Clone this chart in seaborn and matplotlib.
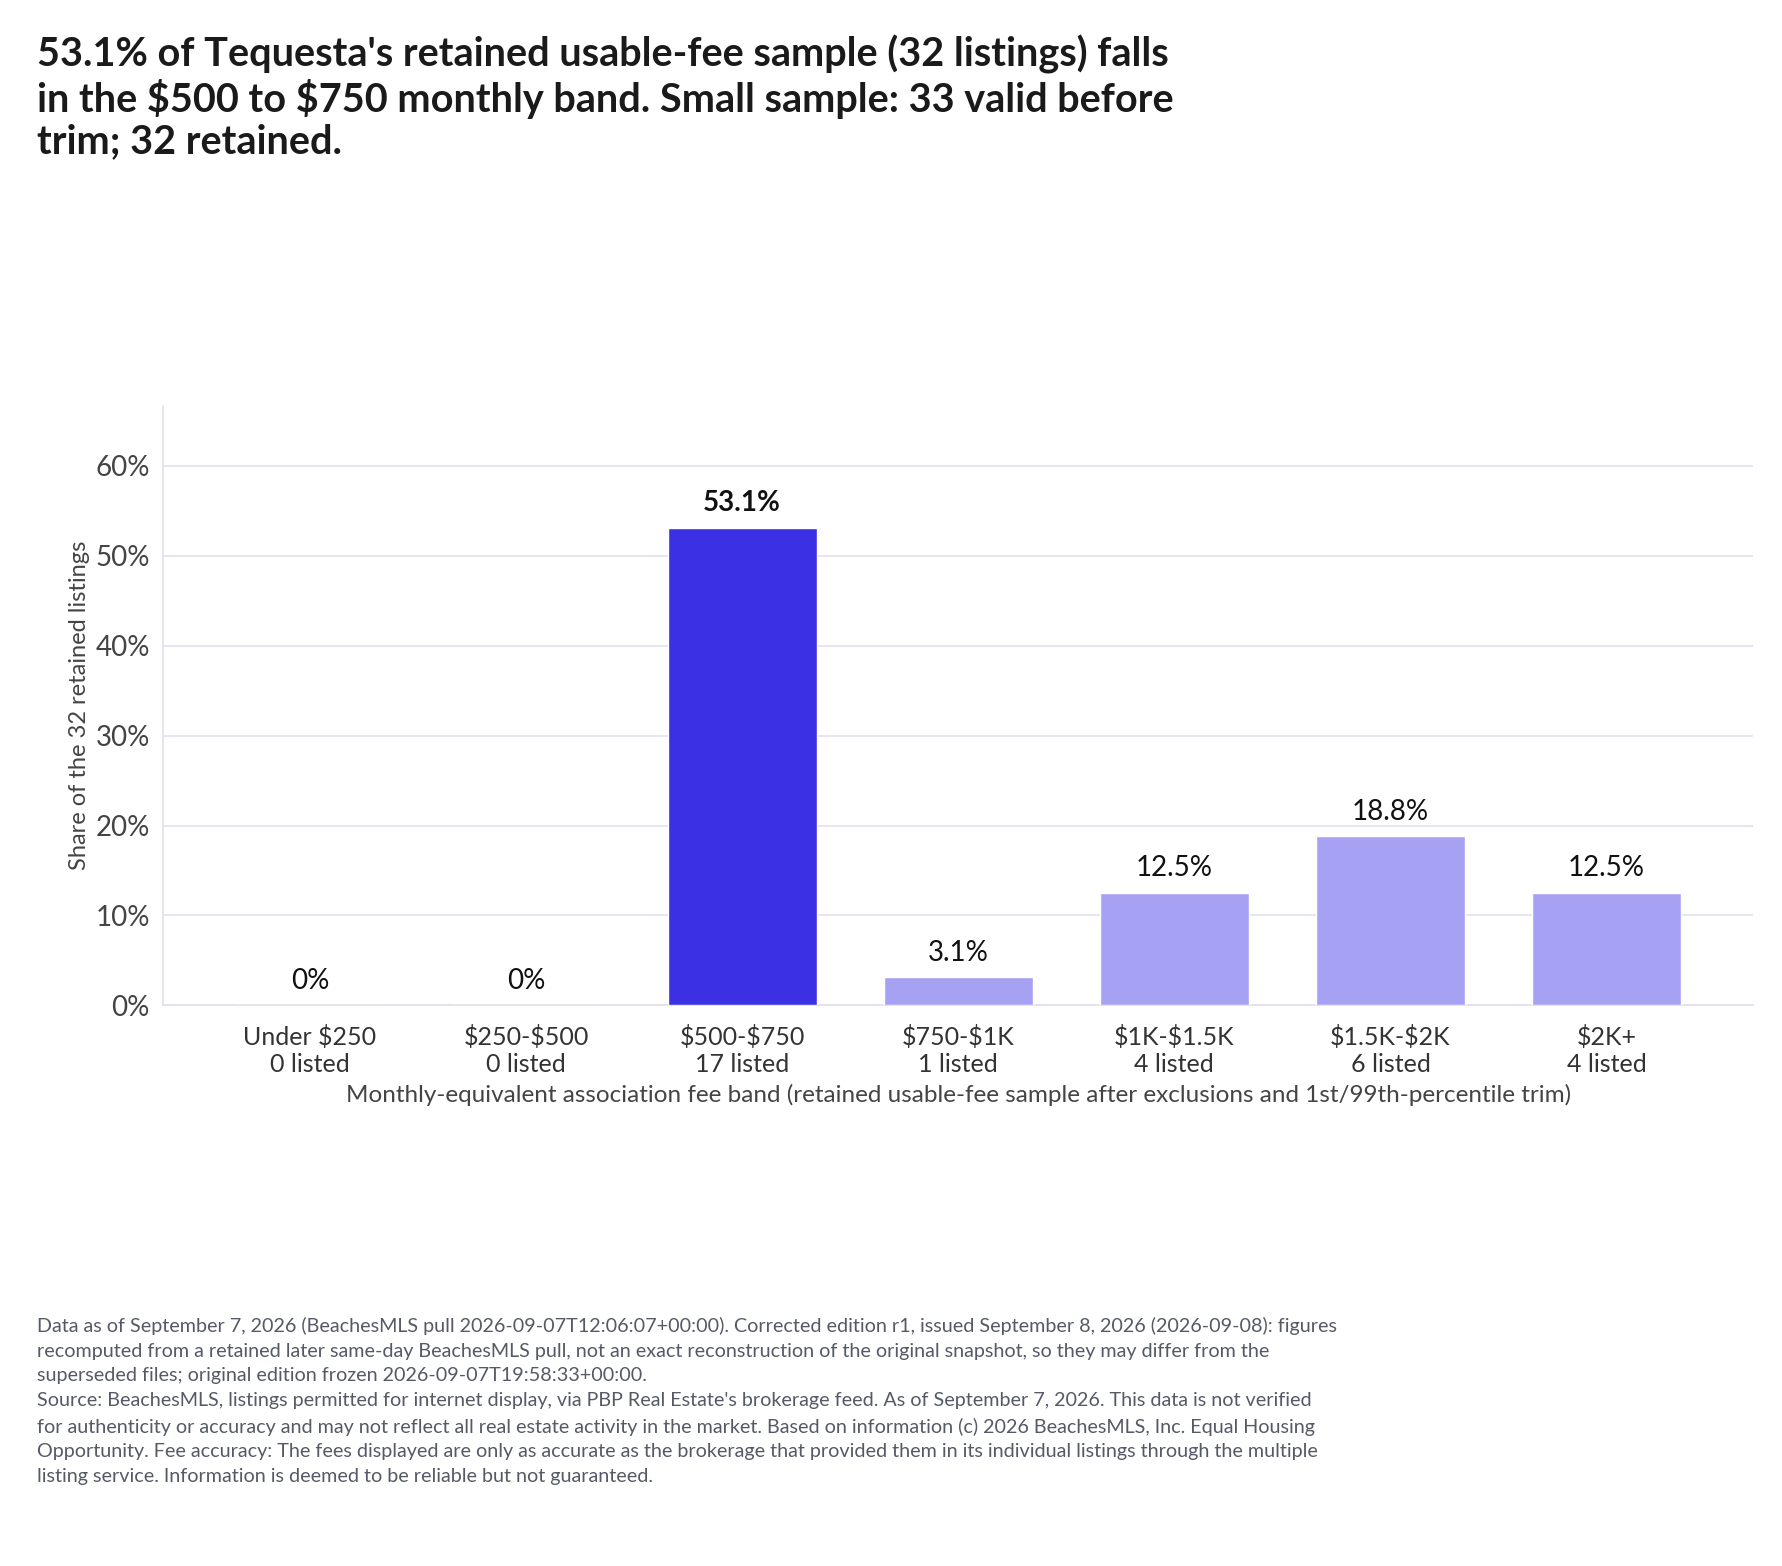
import matplotlib
matplotlib.use("Agg")
import matplotlib.pyplot as plt
import seaborn as sns
import pandas as pd

bands = ["Under $250", "$250-$500", "$500-$750", "$750-$1K", "$1K-$1.5K", "$1.5K-$2K", "$2K+"]
counts = [0, 0, 17, 1, 4, 6, 4]
shares = [0.0, 0.0, 53.1, 3.1, 12.5, 18.8, 12.5]
value_labels = ["0%", "0%", "53.1%", "3.1%", "12.5%", "18.8%", "12.5%"]
highlight = "$500-$750"

sns.set_theme(style="white")
plt.rcParams["font.family"] = ["Lato", "DejaVu Sans"]
plt.rcParams["text.parse_math"] = False

df = pd.DataFrame({"band": bands, "share": shares})
df["label"] = [f"{b}\n{c} listed" for b, c in zip(bands, counts)]
palette = {l: ("#3b30e3" if b == highlight else "#a7a1f3") for l, b in zip(df["label"], bands)}

fig = plt.figure(figsize=(17.82, 15.66), dpi=100)
ax = fig.add_axes([0.0915, 0.358, 0.8925, 0.383])
sns.barplot(data=df, x="label", y="share", hue="label", palette=palette, legend=False,
            width=0.69, saturation=1, ax=ax, zorder=3)

ax.set_xlim(-0.68, 6.68)
ax.set_ylim(0, 66.7)
ax.set_yticks(range(0, 61, 10))
ax.set_yticklabels([f"{v}%" for v in range(0, 61, 10)], fontsize=20, color="#444")
ax.tick_params(axis="x", labelsize=18, colors="#444", length=6, width=1, pad=8)
ax.tick_params(axis="y", length=6, width=1, colors="#444")
for t in ax.get_xticklabels():
    t.set_color("#333")
ax.grid(axis="y", color="#e2e0f0", linewidth=1.2, zorder=0)
for s in ["top", "right"]:
    ax.spines[s].set_visible(False)
ax.spines["left"].set_color("#e2e0f0")
ax.spines["bottom"].set_color("#e2e0f0")

for i, (v, lab) in enumerate(zip(shares, value_labels)):
    ax.text(i, v + 1.3, lab, ha="center", va="bottom", fontsize=20,
            fontweight="bold" if bands[i] == highlight else "normal", color="#111")

ax.set_ylabel("Share of the 32 retained listings", fontsize=17, color="#444")
ax.set_xlabel("Monthly-equivalent association fee band (retained usable-fee sample after exclusions and 1st/99th-percentile trim)",
              fontsize=17.5, color="#444", labelpad=6)

fig.text(0.021, 0.978,
         "53.1% of Tequesta's retained usable-fee sample (32 listings) falls\n"
         "in the $500 to $750 monthly band. Small sample: 33 valid before\n"
         "trim; 32 retained.",
         ha="left", va="top", fontsize=28.5, fontweight="bold", color="#1a1a1a", linespacing=1.15)

foot = ("Data as of September 7, 2026 (BeachesMLS pull 2026-09-07T12:06:07+00:00). Corrected edition r1, issued September 8, 2026 (2026-09-08): figures\n"
        "recomputed from a retained later same-day BeachesMLS pull, not an exact reconstruction of the original snapshot, so they may differ from the\n"
        "superseded files; original edition frozen 2026-09-07T19:58:33+00:00.\n"
        "Source: BeachesMLS, listings permitted for internet display, via PBP Real Estate's brokerage feed. As of September 7, 2026. This data is not verified\n"
        "for authenticity or accuracy and may not reflect all real estate activity in the market. Based on information (c) 2026 BeachesMLS, Inc. Equal Housing\n"
        "Opportunity. Fee accuracy: The fees displayed are only as accurate as the brokerage that provided them in its individual listings through the multiple\n"
        "listing service. Information is deemed to be reliable but not guaranteed.")
fig.text(0.021, 0.159, foot, ha="left", va="top", fontsize=14.2, color="#555a66", linespacing=1.55)

fig.savefig("out.png", dpi=100)
